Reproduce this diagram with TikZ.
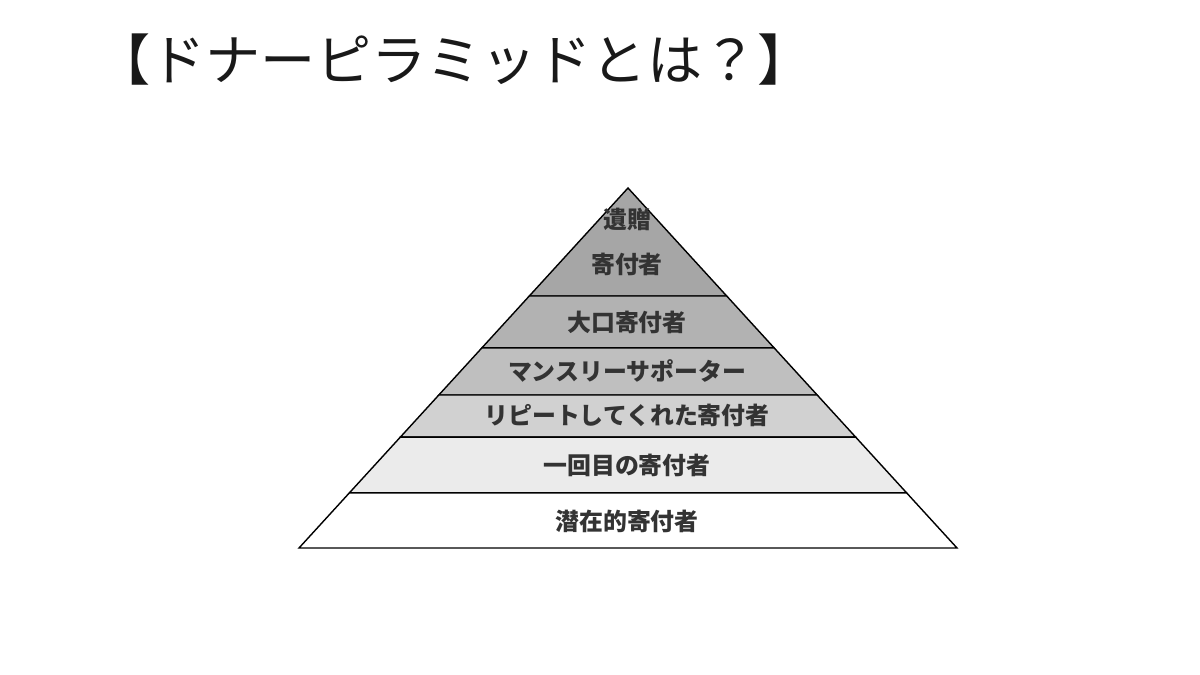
\documentclass[tikz,border=0pt]{standalone}
\usepackage{fontspec}
\setmainfont{Noto Sans CJK JP}
\usetikzlibrary{calc}
\tikzset{
  tier/.style={draw=black,line width=0.8pt},
  tierlabel/.style={font=\fontsize{13.6}{16}\selectfont\bfseries,text=black!80},
}

\begin{document}
\begin{tikzpicture}[x=0.02cm,y=-0.02cm]
  \useasboundingbox (0,0) rectangle (1200,675);
  % title
  \node[anchor=west,inner sep=0pt,font=\fontsize{31.4}{34}\selectfont,text=black!90] (title) at (95,60) {【ドナーピラミッドとは？】};
  % pyramid corners
  \coordinate (apex) at (628,188);
  \coordinate (bl) at (299,548);
  \coordinate (br) at (957,548);
  % tiers, top to bottom
  \foreach \ta/\tb/\c in {0/0.3/black!35, 0.3/0.444/black!30, 0.444/0.575/black!25,
                          0.575/0.692/black!18, 0.692/0.847/black!8, 0.847/1/white}
    \filldraw[tier,fill=\c] ($(apex)!\ta!(bl)$) -- ($(apex)!\tb!(bl)$)
      -- ($(apex)!\tb!(br)$) -- ($(apex)!\ta!(br)$) -- cycle;
  % labels
  \node[tierlabel] (legacy) at (627,219) {遺贈};
  \node[tierlabel] (legacyb) at (627,264) {寄付者};
  \node[tierlabel] (major) at (627,322) {大口寄付者};
  \node[tierlabel] (monthly) at (627,371) {マンスリーサポーター};
  \node[tierlabel] (repeat) at (627,415) {リピートしてくれた寄付者};
  \node[tierlabel] (first) at (627,465) {一回目の寄付者};
  \node[tierlabel] (prospect) at (627,521) {潜在的寄付者};
\end{tikzpicture}
\end{document}
